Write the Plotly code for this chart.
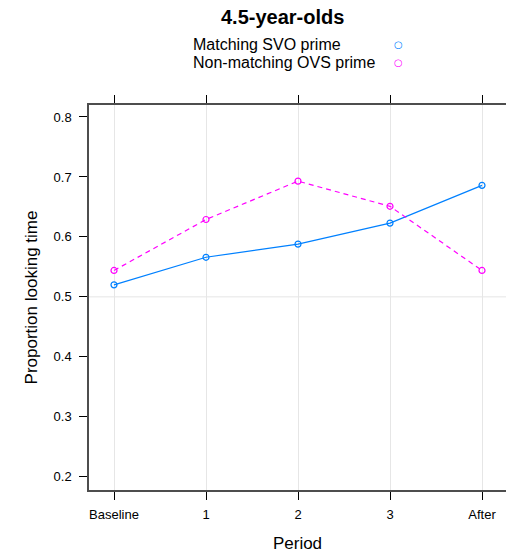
import plotly.graph_objects as go

periods = ["Baseline", "1", "2", "3", "After"]
matching_svo = [0.520, 0.566, 0.588, 0.623, 0.686]
nonmatching_ovs = [0.544, 0.629, 0.693, 0.651, 0.544]
y_ticks = [0.2, 0.3, 0.4, 0.5, 0.6, 0.7, 0.8]
series_names = ["Matching SVO prime", "Non-matching OVS prime"]
blue = "#0080ff"
pink = "#ff00ff"

x_idx = list(range(len(periods)))
font = "Liberation Sans, Arial, sans-serif"

fig = go.Figure()
fig.add_trace(go.Scatter(x=x_idx, y=matching_svo, mode="lines+markers", name=series_names[0],
                         line=dict(color=blue, width=1.2),
                         marker=dict(symbol="circle-open", size=6, color=blue, line=dict(width=1.2))))
fig.add_trace(go.Scatter(x=x_idx, y=nonmatching_ovs, mode="lines+markers", name=series_names[1],
                         line=dict(color=pink, width=1.2, dash="5px,4px"),
                         marker=dict(symbol="circle-open", size=6, color=pink, line=dict(width=1.2))))

# reference line at 0.5
fig.add_shape(type="line", xref="paper", yref="y", x0=0, x1=1, y0=0.5, y1=0.5,
              line=dict(color="#e6e6e6", width=1), layer="below")

# title
fig.add_annotation(text="<b>4.5-year-olds</b>", xref="paper", yref="paper", x=(282-89)/417,
                   y=1 + (105-17)/385, xanchor="center", yanchor="middle", showarrow=False,
                   font=dict(family=font, size=20, color="#000000"))
# legend (text then symbol)
leg_y = [44, 62]
cols = [blue, pink]
for name, yy, c in zip(series_names, leg_y, cols):
    fig.add_annotation(text=name, xref="paper", yref="paper", x=(191-89)/417,
                       y=1 + (105-yy)/385, xanchor="left", yanchor="middle", showarrow=False,
                       font=dict(family=font, size=16, color="#000000"))
    fig.add_annotation(text="○", xref="paper", yref="paper", x=(398-89)/417,
                       y=1 + (105-yy)/385, xanchor="center", yanchor="middle", showarrow=False,
                       font=dict(family="DejaVu Sans", size=10, color=c))

fig.update_layout(
    width=506, height=553,
    margin=dict(l=89, r=0, t=105, b=63),
    plot_bgcolor="white", paper_bgcolor="white",
    showlegend=False,
    font=dict(family=font, color="#000000"),
    xaxis=dict(range=[-25/92, 4 + 24/92], tickmode="array", tickvals=x_idx, ticktext=periods,
               showgrid=True, gridcolor="#e6e6e6", gridwidth=1, zeroline=False,
               showline=True, linecolor="#4d4d4d", linewidth=1.5, mirror="ticks",
               ticks="outside", ticklen=8, tickcolor="#000000", tickwidth=1,
               ticklabelstandoff=4,
               tickfont=dict(family=font, size=13, color="#000000"),
               title=dict(text="Period", font=dict(family=font, size=17, color="#000000"), standoff=20)),
    yaxis=dict(range=[0.5 - 193.3/600, 0.5 + 192/600], tickmode="array", tickvals=y_ticks,
               ticktext=[f"{v:.1f}" for v in y_ticks],
               showgrid=False, zeroline=False,
               showline=True, linecolor="#4d4d4d", linewidth=1.5, mirror=False,
               ticks="outside", ticklen=8, tickcolor="#000000", tickwidth=1,
               ticklabelstandoff=5,
               tickfont=dict(family=font, size=13, color="#000000"),
               title=dict(text="Proportion looking time", font=dict(family=font, size=17, color="#000000"), standoff=12)),
)

fig.write_html("out.html")
